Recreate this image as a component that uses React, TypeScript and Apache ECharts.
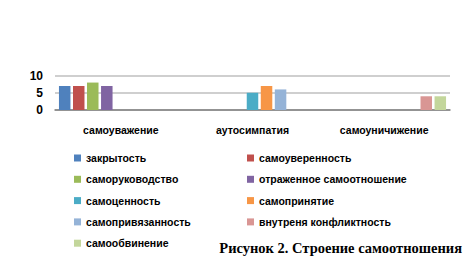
import React, { useEffect, useRef } from "react";
import * as echarts from "echarts";

const categories = ["самоуважение", "аутосимпатия", "самоуничижение"];
const seriesNames = [
  "закрытость",
  "самоуверенность",
  "саморуководство",
  "отраженное самоотношение",
  "самоценность",
  "самопринятие",
  "самопривязанность",
  "внутреня конфликтность",
  "самообвинение",
];
const seriesValues: (number | null)[][] = [
  [7, null, null],
  [7, null, null],
  [8, null, null],
  [7, null, null],
  [null, 5, null],
  [null, 7, null],
  [null, 6, null],
  [null, null, 4],
  [null, null, 4],
];
const colors = [
  "#4F81BD",
  "#C0504D",
  "#9BBB59",
  "#8064A2",
  "#4BACC6",
  "#F79646",
  "#95B3D7",
  "#D99694",
  "#C3D69B",
];
const caption = "Рисунок 2. Строение самоотношения";

const font = "'Liberation Sans', Arial, sans-serif";

export default function App() {
  const ref = useRef<HTMLDivElement>(null);
  useEffect(() => {
    if (!ref.current) return;
    const chart = echarts.init(ref.current, null, { renderer: "svg" });
    const legendText = {
      fontFamily: font,
      fontWeight: "bold" as const,
      fontSize: 10.5,
      color: "#000",
      lineHeight: 12,
    };
    chart.setOption({
      animation: false,
      backgroundColor: "#fff",
      color: colors,
      grid: { left: 55, right: 23, top: 75.7, bottom: 155, containLabel: false },
      xAxis: {
        type: "category",
        data: categories,
        axisTick: { show: false },
        axisLine: { lineStyle: { color: "#808080", width: 1.5 } },
        axisLabel: {
          margin: 14,
          fontFamily: font,
          fontWeight: "bold",
          fontSize: 10.5,
          color: "#000",
        },
      },
      yAxis: {
        type: "value",
        min: 0,
        max: 10,
        interval: 5,
        axisLine: { show: false },
        axisTick: { show: false },
        splitLine: { lineStyle: { color: "#BFBFBF", width: 1.5 } },
        axisLabel: {
          margin: 12,
          fontFamily: font,
          fontWeight: "bold",
          fontSize: 12,
          color: "#000",
        },
      },
      legend: [
        {
          orient: "vertical",
          left: 71,
          top: 149,
          padding: 3,
          itemWidth: 7,
          itemHeight: 7,
          itemGap: 9.3,
          icon: "rect",
          textStyle: legendText,
          data: [0, 2, 4, 6, 8].map((i) => seriesNames[i]),
        },
        {
          orient: "vertical",
          left: 244,
          top: 149,
          padding: 3,
          itemWidth: 7,
          itemHeight: 7,
          itemGap: 9.3,
          icon: "rect",
          textStyle: legendText,
          data: [1, 3, 5, 7].map((i) => seriesNames[i]),
        },
      ],
      graphic: [
        {
          type: "text",
          right: 11,
          top: 240,
          style: {
            text: caption,
            fontFamily: "'Liberation Serif', 'Times New Roman', serif",
            fontWeight: "bold",
            fontSize: 14.5,
            fill: "#000",
          },
        },
      ],
      series: seriesNames.map((name, i) => ({
        name,
        type: "bar",
        data: seriesValues[i],
        barGap: "22%",
        barCategoryGap: "6%",
        itemStyle: { color: colors[i] },
      })),
    });
    return () => chart.dispose();
  }, []);
  return <div ref={ref} style={{ width: 473, height: 265, margin: -8 }} />;
}
